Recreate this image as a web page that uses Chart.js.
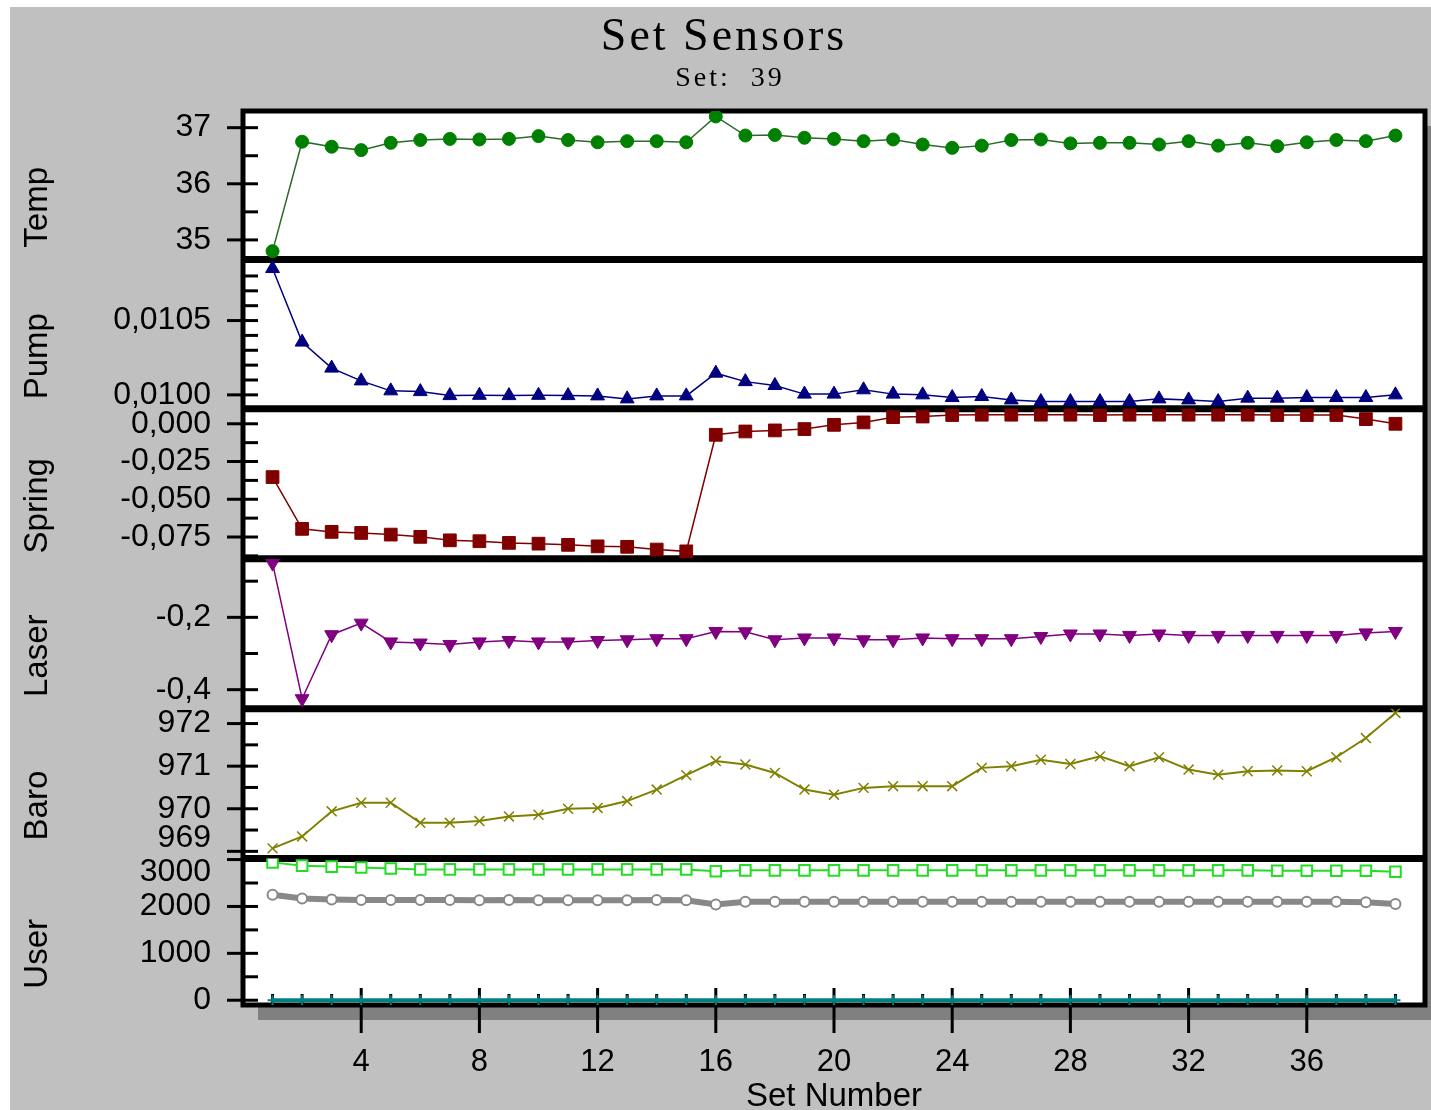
<!DOCTYPE html>
<html>
<head>
<meta charset="utf-8">
<title>Set Sensors</title>
<script src="https://cdn.jsdelivr.net/npm/chart.js@4.4.1/dist/chart.umd.min.js"></script>
<style>
  html, body { margin: 0; padding: 0; background: #fff; }
  #wrap { width: 1431px; height: 1110px; }
</style>
</head>
<body>
<div id="wrap"><canvas id="sensors" width="1431" height="1110"></canvas></div>
<script>
const chartTitle = 'Set Sensors'
const chartSubtitle = 'Set:  39'
const xTitle = 'Set Number'

const setNumbers = [1, 2, 3, 4, 5, 6, 7, 8, 9, 10, 11, 12, 13, 14, 15, 16, 17, 18, 19, 20,
	21, 22, 23, 24, 25, 26, 27, 28, 29, 30, 31, 32, 33, 34, 35, 36, 37, 38, 39]

// sensor readings, one value per set
const temp = [34.80, 36.75, 36.66, 36.60, 36.73, 36.78, 36.80, 36.79, 36.80, 36.85,
	36.78, 36.74, 36.76, 36.76, 36.74, 37.20, 36.86, 36.87, 36.82, 36.80,
	36.76, 36.79, 36.70, 36.64, 36.68, 36.78, 36.79, 36.72, 36.73, 36.73,
	36.70, 36.76, 36.68, 36.73, 36.67, 36.74, 36.78, 36.76, 36.86]
const pump = [0.010850, 0.010355, 0.010180, 0.010094, 0.010027, 0.010022, 0.009995, 0.009997, 0.009995, 0.009997,
	0.009995, 0.009993, 0.009973, 0.009993, 0.009993, 0.010146, 0.010089, 0.010063, 0.010005, 0.010005,
	0.010034, 0.010005, 0.010000, 0.009982, 0.009989, 0.009966, 0.009955, 0.009955, 0.009955, 0.009955,
	0.009973, 0.009966, 0.009955, 0.009978, 0.009978, 0.009982, 0.009982, 0.009982, 0.010000]
const spring = [-0.0353, -0.0696, -0.0716, -0.0723, -0.0734, -0.0749, -0.0772, -0.0778, -0.0789, -0.0794,
	-0.0802, -0.0812, -0.0815, -0.0833, -0.0845, -0.0073, -0.0051, -0.0044, -0.0035, -0.0007,
	0.0009, 0.0044, 0.0048, 0.0058, 0.0060, 0.0060, 0.0060, 0.0060, 0.0058, 0.0060,
	0.0060, 0.0060, 0.0060, 0.0060, 0.0058, 0.0058, 0.0058, 0.0031, 0.0000]
const laser = [-0.050, -0.425, -0.248, -0.216, -0.268, -0.271, -0.275, -0.268, -0.264, -0.268,
	-0.268, -0.264, -0.262, -0.259, -0.259, -0.239, -0.240, -0.262, -0.257, -0.257,
	-0.262, -0.262, -0.257, -0.259, -0.259, -0.259, -0.253, -0.246, -0.246, -0.250,
	-0.246, -0.250, -0.250, -0.250, -0.250, -0.250, -0.250, -0.243, -0.239]
const baro = [969.07, 969.35, 969.94, 970.14, 970.14, 969.67, 969.67, 969.71, 969.82, 969.86,
	970.00, 970.02, 970.18, 970.45, 970.79, 971.12, 971.04, 970.84, 970.45, 970.33,
	970.49, 970.53, 970.53, 970.53, 970.96, 971.00, 971.15, 971.05, 971.23, 971.00,
	971.21, 970.92, 970.80, 970.88, 970.90, 970.88, 971.21, 971.66, 972.25]
const userA = [2940, 2870, 2850, 2830, 2810, 2790, 2790, 2790, 2790, 2790,
	2790, 2790, 2790, 2790, 2790, 2750, 2770, 2770, 2770, 2770,
	2770, 2770, 2770, 2770, 2770, 2770, 2770, 2770, 2770, 2770,
	2770, 2770, 2770, 2770, 2760, 2760, 2760, 2760, 2740]
const userB = [2250, 2170, 2150, 2140, 2140, 2140, 2140, 2130, 2140, 2130,
	2130, 2130, 2130, 2140, 2130, 2040, 2100, 2100, 2100, 2100,
	2100, 2100, 2100, 2100, 2100, 2100, 2100, 2100, 2100, 2100,
	2100, 2100, 2100, 2100, 2100, 2100, 2100, 2090, 2050]
const userC = [0, 0, 0, 0, 0, 0, 0, 0, 0, 0, 0, 0, 0, 0, 0, 0, 0, 0, 0, 0,
	0, 0, 0, 0, 0, 0, 0, 0, 0, 0, 0, 0, 0, 0, 0, 0, 0, 0, 0]

// panels, top to bottom
const panelIds = ['yTemp', 'yPump', 'ySpring', 'yLaser', 'yBaro', 'yUser']
const panelNames = ['Temp', 'Pump', 'Spring', 'Laser', 'Baro', 'User']
const panelWeights = [148.7, 149.3, 150, 150, 150, 146.5]
const panelMin = [34.649, 0.009906, -0.0894, -0.4525, 968.83, -102]
const panelMax = [37.297, 0.01091, 0.0099, -0.038, 972.35, 3021]

const majorTicks = [
	[35, 36, 37],
	[0.0100, 0.0105],
	[-0.075, -0.05, -0.025, 0],
	[-0.4, -0.2],
	[969, 970, 971, 972],
	[0, 1000, 2000, 3000]
]
const majorLabels = [
	['35', '36', '37'],
	['0,0100', '0,0105'],
	['-0,075', '-0,050', '-0,025', '0,000'],
	['-0,4', '-0,2'],
	['969', '970', '971', '972'],
	['0', '1000', '2000', '3000']
]
const minorTicks = [
	[35.5, 36.5],
	[0.0101, 0.0102, 0.0103, 0.0104, 0.0106, 0.0107, 0.0108, 0.0109],
	[-0.0875, -0.0625, -0.0375, -0.0125],
	[-0.3, -0.1],
	[969.5, 970.5, 971.5],
	[500, 1500, 2500]
]
const xMajor = [4, 8, 12, 16, 20, 24, 28, 32, 36]
const xLabels = ['4', '8', '12', '16', '20', '24', '28', '32', '36']

const sans = "'Liberation Sans', Arial, sans-serif"
const serif = "'Liberation Serif', 'Times New Roman', serif"

const pts = (values) => setNumbers.map((n, i) => ({x: n, y: values[i]}))

const line = (ctx, x1, y1, x2, y2) => {
	ctx.beginPath()
	ctx.moveTo(x1, y1)
	ctx.lineTo(x2, y2)
	ctx.stroke()
}

// labels that sit on an inner panel edge get nudged into their own panel
function yLabel(i, value){
	const k = majorTicks[i].findIndex(m => Math.abs(m - value) < 1e-9)
	if(k < 0) return ''
	const text = majorLabels[i][k]
	const span = panelMax[i] - panelMin[i]
	const fromBottom = (value - panelMin[i]) / span * panelWeights[i]
	const fromTop = (panelMax[i] - value) / span * panelWeights[i]
	if(fromBottom < 10 && i < panelIds.length - 1) return [text, '']
	if(fromTop < 10 && i > 0) return ['', text]
	return text
}

function panelScale(i){
	return {
		type: 'linear',
		position: 'left',
		stack: 'sensors',
		stackWeight: panelWeights[i],
		weight: panelIds.length - i,
		min: panelMin[i],
		max: panelMax[i],
		bounds: 'data',
		border: { display: false },
		grid: { display: false, drawTicks: false },
		ticks: {
			autoSkip: false,
			padding: 32,
			color: '#000',
			font: { family: sans, size: 32, lineHeight: 0.8 },
			callback: (value) => yLabel(i, value)
		},
		afterBuildTicks: (scale) => {
			scale.ticks = [...majorTicks[i], ...minorTicks[i]]
				.sort((a, b) => a - b)
				.map(v => ({value: v}))
		},
		afterFit: (scale) => { scale.width = 243 }
	}
}

const scales = {
	x: {
		type: 'linear',
		position: 'bottom',
		min: 0,
		max: 40,
		bounds: 'data',
		border: { display: false },
		grid: { display: false, drawTicks: false },
		ticks: {
			autoSkip: false,
			maxRotation: 0,
			minRotation: 0,
			// kept below the half-step so the scale adds no right padding
			padding: 28,
			color: '#000',
			font: { family: sans, size: 31, lineHeight: 1.9 },
			callback: (value) => {
				const k = xMajor.indexOf(value)
				return k < 0 ? '' : xLabels[k]
			}
		},
		title: {
			display: true,
			text: xTitle,
			color: '#000',
			padding: 0,
			font: { family: sans, size: 33, lineHeight: 0.8 }
		},
		afterBuildTicks: (scale) => {
			scale.ticks = setNumbers.map(v => ({value: v}))
		},
		afterFit: (scale) => { scale.height = 105 }
	}
}
panelIds.forEach((id, i) => { scales[id] = panelScale(i) })

// background, shadow, frame, separators, tick marks and texts
const sensorFrame = {
	id: 'sensorFrame',
	beforeDraw(chart){
		const {ctx, chartArea: a, width, height} = chart
		ctx.save()
		ctx.fillStyle = '#ffffff'
		ctx.fillRect(0, 0, width, height)
		ctx.fillStyle = '#c0c0c0'
		ctx.fillRect(10, 7, width - 10, height - 7)
		ctx.fillStyle = '#808080'
		ctx.fillRect(a.left + 15, a.top + 15, a.right - a.left, a.bottom - a.top)
		ctx.fillStyle = '#ffffff'
		ctx.fillRect(a.left, a.top, a.right - a.left, a.bottom - a.top)

		ctx.fillStyle = '#000'
		ctx.textAlign = 'center'
		ctx.textBaseline = 'alphabetic'
		ctx.letterSpacing = '3px'
		ctx.font = `46px ${serif}`
		ctx.fillText(chartTitle, 724, 50)
		ctx.font = `28px ${serif}`
		ctx.fillText(chartSubtitle, 730, 86)
		ctx.letterSpacing = '0px'

		// panel names
		ctx.font = `33px ${sans}`
		ctx.textBaseline = 'middle'
		panelIds.forEach((id, i) => {
			const s = chart.scales[id]
			ctx.save()
			ctx.translate(38, (s.top + s.bottom) / 2 + 22)
			ctx.rotate(-Math.PI / 2)
			ctx.fillText(panelNames[i], 0, 0)
			ctx.restore()
		})
		ctx.restore()
	},
	beforeDatasetsDraw(chart){
		const {ctx, chartArea: a} = chart
		ctx.save()
		ctx.strokeStyle = '#000'
		ctx.lineWidth = 3

		panelIds.forEach((id, i) => {
			const s = chart.scales[id]
			majorTicks[i].forEach(v => {
				const y = s.getPixelForValue(v)
				line(ctx, a.left - 16, y, a.left + 15, y)
			})
			minorTicks[i].forEach(v => {
				const y = s.getPixelForValue(v)
				if(y > s.top && y < s.bottom) line(ctx, a.left, y, a.left + 15, y)
			})
		})

		const xs = chart.scales.x
		setNumbers.forEach(v => {
			const x = xs.getPixelForValue(v)
			if(xMajor.includes(v)) line(ctx, x, a.bottom - 17, x, a.bottom + 28)
			else line(ctx, x, a.bottom - 11, x, a.bottom)
		})

		ctx.lineWidth = 7
		panelIds.slice(1).forEach(id => {
			const y = chart.scales[id].top
			line(ctx, a.left, y, a.right, y)
		})
		ctx.lineWidth = 5
		ctx.strokeRect(a.left, a.top, a.right - a.left, a.bottom - a.top)
		ctx.restore()
	}
}

new Chart(document.getElementById('sensors'), {
	type: 'line',
	data: {
		datasets: [
			{
				label: 'Temp', yAxisID: 'yTemp', data: pts(temp),
				borderColor: '#2a6a2a', borderWidth: 1.5,
				pointStyle: 'circle', pointRadius: 6.5,
				pointBackgroundColor: '#008000', pointBorderColor: '#008000', pointBorderWidth: 1
			},
			{
				label: 'Pump', yAxisID: 'yPump', data: pts(pump),
				borderColor: '#000080', borderWidth: 1.5,
				pointStyle: 'triangle', pointRadius: 8,
				pointBackgroundColor: '#000080', pointBorderColor: '#000080', pointBorderWidth: 1
			},
			{
				label: 'Spring', yAxisID: 'ySpring', data: pts(spring),
				borderColor: '#800000', borderWidth: 1.5,
				pointStyle: 'rect', pointRadius: 9,
				pointBackgroundColor: '#800000', pointBorderColor: '#800000', pointBorderWidth: 1
			},
			{
				label: 'Laser', yAxisID: 'yLaser', data: pts(laser),
				borderColor: '#800080', borderWidth: 1.5,
				pointStyle: 'triangle', pointRotation: 180, pointRadius: 8,
				pointBackgroundColor: '#800080', pointBorderColor: '#800080', pointBorderWidth: 1
			},
			{
				label: 'Baro', yAxisID: 'yBaro', data: pts(baro),
				borderColor: '#808000', borderWidth: 2,
				pointStyle: 'crossRot', pointRadius: 7,
				pointBorderColor: '#808000', pointBorderWidth: 1.5
			},
			{
				label: 'User 1', yAxisID: 'yUser', data: pts(userA),
				borderColor: '#22dd22', borderWidth: 2,
				pointStyle: 'rect', pointRadius: 7.5,
				pointBackgroundColor: '#ffffff', pointBorderColor: '#22dd22', pointBorderWidth: 2
			},
			{
				label: 'User 2', yAxisID: 'yUser', data: pts(userB),
				borderColor: '#888888', borderWidth: 6,
				pointStyle: 'circle', pointRadius: 5,
				pointBackgroundColor: '#ffffff', pointBorderColor: '#888888', pointBorderWidth: 2
			},
			{
				label: 'User 3', yAxisID: 'yUser', data: pts(userC),
				borderColor: '#008080', borderWidth: 4,
				pointStyle: 'cross', pointRadius: 5,
				pointBorderColor: '#008080', pointBorderWidth: 2
			}
		]
	},
	options: {
		responsive: false,
		devicePixelRatio: 1,
		animation: false,
		events: [],
		layout: { autoPadding: false, padding: { top: 111, right: 6, bottom: 0, left: 0 } },
		elements: { line: { tension: 0 } },
		plugins: {
			legend: { display: false },
			tooltip: { enabled: false },
			title: { display: false }
		},
		scales
	},
	plugins: [sensorFrame]
})
</script>
</body>
</html>
